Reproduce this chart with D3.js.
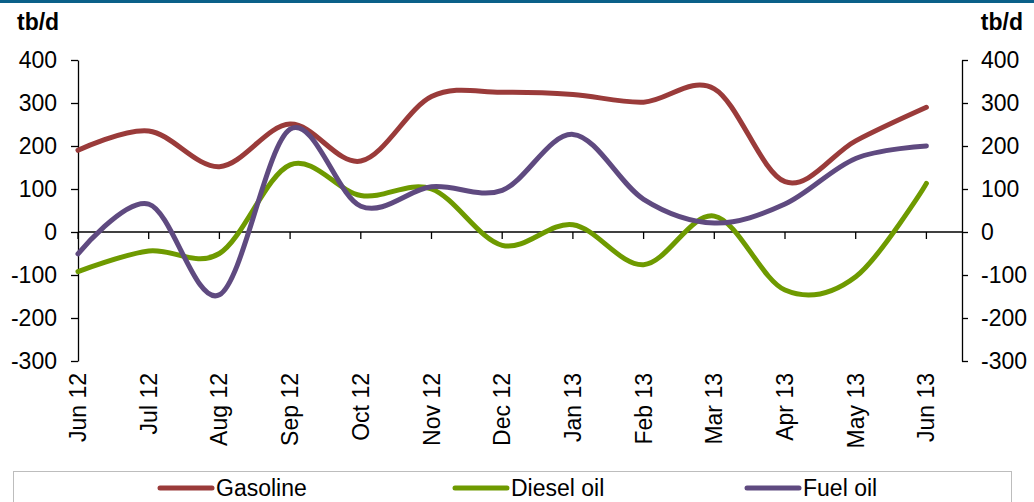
<!DOCTYPE html>
<html>
<head>
<meta charset="utf-8">
<script src="https://cdn.jsdelivr.net/npm/d3@7"></script>
<style>
	body { margin: 0; background: #fff; }
	svg { display: block; font-family: "Liberation Sans", Arial, sans-serif; }
</style>
</head>
<body>
<svg id="chart" width="1034" height="502"></svg>
<script>
// Monthly change, tb/d
const months = ["Jun 12", "Jul 12", "Aug 12", "Sep 12", "Oct 12", "Nov 12", "Dec 12",
	"Jan 13", "Feb 13", "Mar 13", "Apr 13", "May 13", "Jun 13"];
const gasoline = [190, 235, 152, 251, 165, 315, 325, 320, 302, 333, 117, 212, 290];
const diesel = [-92, -44, -50, 156, 85, 100, -31, 17, -76, 37, -135, -104, 113];
const fuelOil = [-51, 65, -146, 239, 60, 105, 97, 227, 76, 21, 65, 171, 200];
const yTicks = [-300, -200, -100, 0, 100, 200, 300, 400];

const series = [
	{ name: "Gasoline", values: gasoline, color: "#9a3b3a" },
	{ name: "Diesel oil", values: diesel, color: "#6e9a00" },
	{ name: "Fuel oil", values: fuelOil, color: "#5f4a80" },
];

const svg = d3.select("#chart");

// thin title band cut off at the top
svg.append("rect").attr("x", 0).attr("y", 0).attr("width", 1034).attr("height", 3).attr("fill", "#0a6089");

const x = d3.scalePoint().domain(months).range([78, 926.4]);
const y = d3.scaleLinear().domain([-300, 400]).range([361, 60]);

const fontSize = "23px";
const fmt = (d) => String(d); // plain hyphen for negatives

// left axis
const leftAxis = svg.append("g")
	.attr("transform", "translate(78,0)")
	.call(d3.axisLeft(y).tickValues(yTicks).tickFormat(fmt).tickSize(7).tickPadding(14).tickSizeOuter(0));
// right axis
const rightAxis = svg.append("g")
	.attr("transform", "translate(962,0)")
	.call(d3.axisRight(y).tickValues(yTicks).tickFormat(fmt).tickSize(6).tickPadding(13).tickSizeOuter(0));

[leftAxis, rightAxis].forEach((g) => {
	g.selectAll("path.domain").attr("stroke", "#000").attr("stroke-width", 1.3);
	g.selectAll(".tick line").attr("stroke", "#000").attr("stroke-width", 1.3);
	g.selectAll("text").attr("font-size", fontSize).attr("fill", "#000")
		.attr("font-family", "Liberation Sans, Arial, sans-serif");
});

// category axis at zero
const zeroY = y(0);
svg.append("line")
	.attr("x1", 78).attr("x2", 962)
	.attr("y1", zeroY).attr("y2", zeroY)
	.attr("stroke", "#000").attr("stroke-width", 1.3);
svg.append("g")
	.selectAll("line")
	.data(months)
	.join("line")
	.attr("x1", (d) => x(d)).attr("x2", (d) => x(d))
	.attr("y1", zeroY).attr("y2", zeroY + 7)
	.attr("stroke", "#000").attr("stroke-width", 1.3);

svg.append("g")
	.selectAll("text")
	.data(months)
	.join("text")
	.attr("transform", (d) => `translate(${x(d)},373) rotate(-90)`)
	.attr("text-anchor", "end")
	.attr("dy", "0.35em")
	.attr("font-size", fontSize)
	.text((d) => d);

// unit labels
svg.append("text").attr("x", 17).attr("y", 30)
	.attr("font-size", fontSize).attr("font-weight", "bold").text("tb/d");
svg.append("text").attr("x", 1023).attr("y", 30).attr("text-anchor", "end")
	.attr("font-size", fontSize).attr("font-weight", "bold").text("tb/d");

// lines (Excel style smoothing)
const line = d3.line()
	.x((d, i) => x(months[i]))
	.y((d) => y(d))
	.curve(d3.curveCardinal.tension(0));

svg.append("g")
	.selectAll("path")
	.data(series)
	.join("path")
	.attr("d", (d) => line(d.values))
	.attr("fill", "none")
	.attr("stroke", (d) => d.color)
	.attr("stroke-width", 5)
	.attr("stroke-linecap", "round")
	.attr("stroke-linejoin", "round");

// legend
svg.append("rect")
	.attr("x", 13.5).attr("y", 471.5)
	.attr("width", 998).attr("height", 40)
	.attr("fill", "none").attr("stroke", "#bdbdbd").attr("stroke-width", 1);

const legendX = [160, 455, 747];
const legend = svg.append("g")
	.selectAll("g")
	.data(series)
	.join("g")
	.attr("transform", (d, i) => `translate(${legendX[i]},488)`);
legend.append("line")
	.attr("x1", 0).attr("x2", 52)
	.attr("stroke", (d) => d.color)
	.attr("stroke-width", 5)
	.attr("stroke-linecap", "round");
legend.append("text")
	.attr("x", 56)
	.attr("dy", "0.35em")
	.attr("font-size", fontSize)
	.text((d) => d.name);
</script>
</body>
</html>
